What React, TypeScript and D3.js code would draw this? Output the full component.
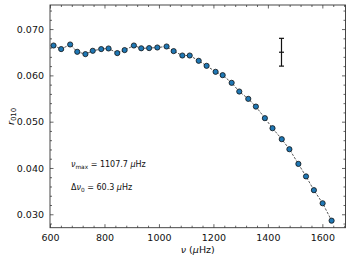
import React, { useEffect, useRef } from 'react';
import * as d3 from 'd3';

const freqs = [613, 641, 674, 700, 730, 757, 788, 815, 847, 874, 908, 935, 964, 994, 1028, 1054, 1086, 1113, 1146, 1175, 1208, 1234, 1267, 1295, 1328, 1356, 1389, 1417, 1451, 1479, 1512, 1540, 1569, 1601, 1634];
const r010 = [0.06645, 0.06568, 0.06667, 0.06509, 0.06459, 0.06531, 0.06568, 0.06581, 0.06481, 0.06546, 0.06645, 0.06585, 0.06589, 0.06602, 0.06624, 0.06524, 0.06429, 0.06429, 0.06315, 0.06206, 0.06077, 0.06005, 0.05839, 0.05651, 0.05493, 0.05326, 0.05076, 0.04859, 0.04622, 0.04405, 0.04088, 0.03818, 0.03521, 0.03238, 0.02862];
const xTicks = [600, 800, 1000, 1200, 1400, 1600];
const yTicks = [0.03, 0.04, 0.05, 0.06, 0.07];
const errBar = { x: 1450, y: 0.065, err: 0.003 };

const W = 354;
const H = 261;

const App: React.FC = () => {
  const ref = useRef<SVGSVGElement | null>(null);

  useEffect(() => {
    if (!ref.current) return;
    const svg = d3.select(ref.current);
    svg.selectAll('*').remove();

    const margin = { top: 5, right: 8.5, bottom: 33.3, left: 50 };
    const iw = W - margin.left - margin.right;
    const ih = H - margin.top - margin.bottom;
    const font = 'DejaVu Sans, sans-serif';

    const x = d3.scaleLinear().domain([600, 1685]).range([0, iw]);
    const y = d3.scaleLinear().domain([0.0271, 0.0752]).range([ih, 0]);

    const g = svg.append('g').attr('transform', `translate(${margin.left},${margin.top})`);

    const xMinor = d3.range(600, 1685, 40).filter(v => v % 200 !== 0);
    const yMinor = d3.range(0.028, 0.0752, 0.002).filter(v => Math.abs(v * 100 - Math.round(v * 100)) > 1e-6);

    const styleAxis = (sel: any, labels: boolean) => {
      sel.select('.domain').remove();
      sel.selectAll('line').attr('stroke', '#222').attr('stroke-width', 0.7);
      sel.selectAll('text')
        .attr('fill', labels ? '#111' : 'none')
        .style('font-family', font)
        .style('font-size', '9.5px');
    };

    // bottom
    g.append('g').attr('transform', `translate(0,${ih})`)
      .call(d3.axisBottom(x).tickValues(xTicks).tickSize(-3.5).tickPadding(7).tickFormat(d3.format('d')))
      .call((s: any) => styleAxis(s, true));
    g.append('g').attr('transform', `translate(0,${ih})`)
      .call(d3.axisBottom(x).tickValues(xMinor).tickSize(-2).tickFormat(() => ''))
      .call((s: any) => styleAxis(s, false));
    // top
    g.append('g')
      .call(d3.axisTop(x).tickValues(xTicks).tickSize(-3.5).tickFormat(() => ''))
      .call((s: any) => styleAxis(s, false));
    g.append('g')
      .call(d3.axisTop(x).tickValues(xMinor).tickSize(-2).tickFormat(() => ''))
      .call((s: any) => styleAxis(s, false));
    // left
    g.append('g')
      .call(d3.axisLeft(y).tickValues(yTicks).tickSize(-3.5).tickPadding(6).tickFormat(d3.format('.3f')))
      .call((s: any) => styleAxis(s, true));
    g.append('g')
      .call(d3.axisLeft(y).tickValues(yMinor).tickSize(-2).tickFormat(() => ''))
      .call((s: any) => styleAxis(s, false));
    // right
    g.append('g').attr('transform', `translate(${iw},0)`)
      .call(d3.axisRight(y).tickValues(yTicks).tickSize(-3.5).tickFormat(() => ''))
      .call((s: any) => styleAxis(s, false));
    g.append('g').attr('transform', `translate(${iw},0)`)
      .call(d3.axisRight(y).tickValues(yMinor).tickSize(-2).tickFormat(() => ''))
      .call((s: any) => styleAxis(s, false));

    g.append('rect')
      .attr('width', iw).attr('height', ih)
      .attr('fill', 'none').attr('stroke', '#333').attr('stroke-width', 0.9);

    const pts = freqs.map((f, i) => ({ f, r: r010[i] }));

    g.append('path')
      .datum(pts)
      .attr('fill', 'none')
      .attr('stroke', '#222')
      .attr('stroke-width', 0.75)
      .attr('stroke-dasharray', '2.5,1.5')
      .attr('d', d3.line<{ f: number; r: number }>().x(d => x(d.f)).y(d => y(d.r)) as any);

    g.selectAll('circle.pt')
      .data(pts)
      .enter()
      .append('circle')
      .attr('class', 'pt')
      .attr('cx', d => x(d.f))
      .attr('cy', d => y(d.r))
      .attr('r', 2.6)
      .attr('fill', '#1f77b4')
      .attr('stroke', '#111')
      .attr('stroke-width', 0.8);

    // error bar
    const ex = x(errBar.x);
    const eTop = y(errBar.y + errBar.err);
    const eBot = y(errBar.y - errBar.err);
    const eb = g.append('g').attr('stroke', '#111').attr('stroke-width', 1.2);
    eb.append('line').attr('x1', ex).attr('x2', ex).attr('y1', eTop).attr('y2', eBot);
    eb.append('line').attr('x1', ex - 2.5).attr('x2', ex + 2.5).attr('y1', eTop).attr('y2', eTop);
    eb.append('line').attr('x1', ex - 2.5).attr('x2', ex + 2.5).attr('y1', eBot).attr('y2', eBot);
    eb.append('line').attr('x1', ex - 2.5).attr('x2', ex + 2.5).attr('y1', y(errBar.y)).attr('y2', y(errBar.y));

    // annotations
    const t1 = g.append('text').attr('x', 21).attr('y', 162).style('font-family', font).style('font-size', '8px').attr('fill', '#111');
    t1.append('tspan').style('font-style', 'italic').text('ν');
    t1.append('tspan').attr('dy', 1.8).style('font-size', '5.8px').text('max');
    t1.append('tspan').attr('dy', -1.8).text(' = 1107.7 ');
    t1.append('tspan').style('font-style', 'italic').text('μ');
    t1.append('tspan').text('Hz');

    const t2 = g.append('text').attr('x', 21).attr('y', 185).style('font-family', font).style('font-size', '8px').attr('fill', '#111');
    t2.append('tspan').text('Δ');
    t2.append('tspan').style('font-style', 'italic').text('ν');
    t2.append('tspan').attr('dy', 1.8).style('font-size', '5.8px').text('0');
    t2.append('tspan').attr('dy', -1.8).text(' = 60.3 ');
    t2.append('tspan').style('font-style', 'italic').text('μ');
    t2.append('tspan').text('Hz');

    // axis labels
    const xl = svg.append('text')
      .attr('x', margin.left + iw / 2).attr('y', 253)
      .attr('text-anchor', 'middle')
      .style('font-family', font).style('font-size', '9.5px').attr('fill', '#111');
    xl.append('tspan').style('font-style', 'italic').text('ν');
    xl.append('tspan').text(' (');
    xl.append('tspan').style('font-style', 'italic').text('μ');
    xl.append('tspan').text('Hz)');

    const yl = svg.append('text')
      .attr('transform', `translate(14,${margin.top + ih / 2}) rotate(-90)`)
      .attr('text-anchor', 'middle')
      .style('font-family', font).style('font-size', '9.5px').attr('fill', '#111');
    yl.append('tspan').style('font-style', 'italic').text('r');
    yl.append('tspan').attr('dy', 2).style('font-size', '7px').text('010');
  }, []);

  return (
    <svg
      ref={ref}
      width={W}
      height={H}
      style={{ position: 'absolute', left: 0, top: 0, background: '#fff' }}
    />
  );
};

export default App;
